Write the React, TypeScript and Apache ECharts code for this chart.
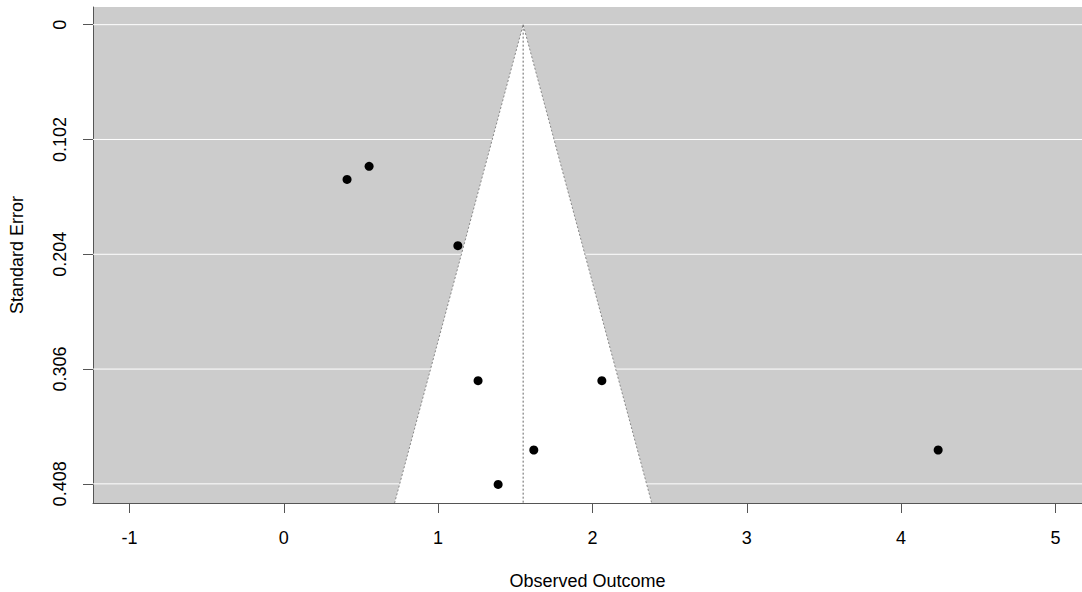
import React, { useEffect, useRef } from "react";
import * as echarts from "echarts";

const xTicks = [-1, 0, 1, 2, 3, 4, 5];
const yTicks = [0, 0.102, 0.204, 0.306, 0.408];
const estimates = [0.553, 0.41, 1.128, 1.259, 2.061, 1.62, 4.24, 1.389];
const stdErrors = [0.1259, 0.1375, 0.1964, 0.3163, 0.3163, 0.3779, 0.3779, 0.4085];
const pooledEstimate = 1.551;
const zCrit = 1.96;
const xMin = -1.236;
const xMax = 5.172;
const yMin = -0.0157;
const yMax = 0.425;

const FONT = "'Liberation Sans', Arial, sans-serif";

export default function App() {
  const ref = useRef<HTMLDivElement>(null);

  useEffect(() => {
    if (!ref.current) return;
    const chart = echarts.init(ref.current, null, { renderer: "svg" });
    const points = estimates.map((e, i) => [e, stdErrors[i]]);
    chart.setOption({
      animation: false,
      grid: {
        left: 93,
        right: 0,
        top: 7,
        bottom: 89,
        show: true,
        backgroundColor: "#cccccc",
        borderWidth: 0,
        containLabel: false,
        outerBoundsMode: "none",
      },
      xAxis: {
        type: "value",
        min: xMin,
        max: xMax,
        name: "Observed Outcome",
        nameLocation: "middle",
        nameGap: 69,
        nameTextStyle: { fontFamily: FONT, fontSize: 18, color: "#000" },
        axisLine: { show: true, onZero: false, lineStyle: { color: "#555", width: 1 } },
        axisTick: { show: true, length: 10, customValues: xTicks, lineStyle: { color: "#555" } },
        axisLabel: {
          customValues: xTicks,
          margin: 26,
          fontFamily: FONT,
          fontSize: 18,
          color: "#000",
          formatter: (v: number) => String(v),
        },
        splitLine: { show: false },
      },
      yAxis: {
        type: "value",
        inverse: true,
        min: yMin,
        max: yMax,
        name: "Standard Error",
        nameLocation: "middle",
        nameGap: 67,
        nameTextStyle: { fontFamily: FONT, fontSize: 18, color: "#000" },
        axisLine: { show: true, onZero: false, lineStyle: { color: "#555", width: 1 } },
        axisTick: { show: true, length: 10, customValues: yTicks, lineStyle: { color: "#555" } },
        axisLabel: {
          customValues: yTicks,
          rotate: 90,
          margin: 24,
          fontFamily: FONT,
          fontSize: 18,
          color: "#000",
          formatter: (v: number) => String(v),
        },
        splitLine: { show: false },
      },
      series: [
        {
          type: "custom",
          z: 1,
          silent: true,
          clip: true,
          data: yTicks.map((v) => [xMin, v]),
          renderItem: (params: any, api: any) => {
            const a = api.coord([xMin, api.value(1)]);
            const b = api.coord([xMax, api.value(1)]);
            return {
              type: "line",
              shape: { x1: a[0], y1: a[1], x2: b[0], y2: b[1] },
              style: { stroke: "#ffffff", lineWidth: 1 },
            };
          },
        },
        {
          type: "custom",
          z: 2,
          silent: true,
          clip: true,
          data: [[pooledEstimate, yMax]],
          renderItem: (params: any, api: any) => {
            const c = api.value(0);
            const s = api.value(1);
            const apex = api.coord([c, 0]);
            const bl = api.coord([c - zCrit * s, s]);
            const br = api.coord([c + zCrit * s, s]);
            const bc = api.coord([c, s]);
            return {
              type: "group",
              children: [
                { type: "polygon", shape: { points: [apex, bl, br] }, style: { fill: "#ffffff" } },
                {
                  type: "polyline",
                  shape: { points: [bl, apex, br] },
                  style: { stroke: "#888888", lineWidth: 1, lineDash: [2, 2], fill: null },
                },
                {
                  type: "line",
                  shape: { x1: apex[0], y1: apex[1], x2: bc[0], y2: bc[1] },
                  style: { stroke: "#666666", lineWidth: 1, lineDash: [2, 2] },
                },
              ],
            };
          },
        },
        {
          type: "scatter",
          z: 3,
          symbol: "circle",
          symbolSize: 9,
          itemStyle: { color: "#000000", opacity: 1 },
          data: points,
        },
      ],
    });
    return () => chart.dispose();
  }, []);

  return (
    <div
      ref={ref}
      style={{ position: "absolute", left: 0, top: 0, width: 1082, height: 592 }}
    />
  );
}
